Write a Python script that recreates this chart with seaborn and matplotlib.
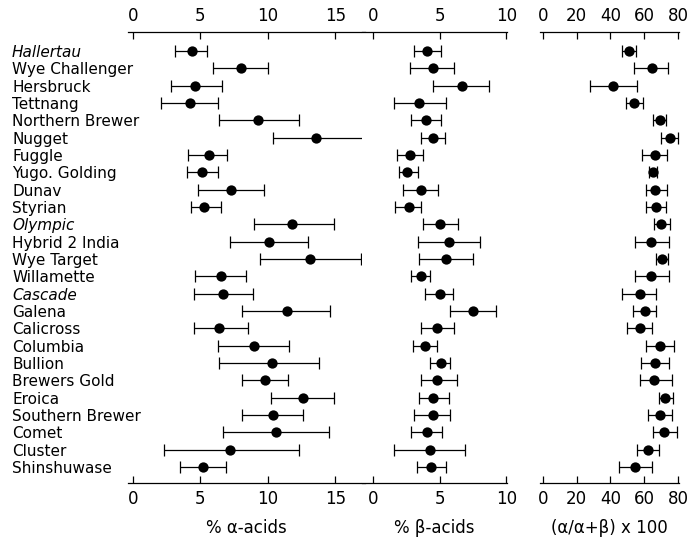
import numpy as np
import pandas as pd
import matplotlib
matplotlib.use("Agg")
import matplotlib.pyplot as plt
import seaborn as sns

varieties = ["Hallertau", "Wye Challenger", "Hersbruck", "Tettnang", "Northern Brewer",
             "Nugget", "Fuggle", "Yugo. Golding", "Dunav", "Styrian", "Olympic",
             "Hybrid 2 India", "Wye Target", "Willamette", "Cascade", "Galena",
             "Calicross", "Columbia", "Bullion", "Brewers Gold", "Eroica",
             "Southern Brewer", "Comet", "Cluster", "Shinshuwase"]
italic_names = ["Hallertau", "Olympic", "Cascade"]

alpha_mean = [4.4, 8.0, 4.6, 4.2, 9.3, 13.6, 5.6, 5.1, 7.3, 5.3, 11.8, 10.1, 13.1,
              6.5, 6.7, 11.4, 6.4, 9.0, 10.3, 9.8, 12.6, 10.4, 10.6, 7.2, 5.2]
alpha_low = [3.1, 5.9, 2.8, 2.1, 6.4, 10.4, 4.1, 4.0, 4.8, 4.3, 9.0, 7.2, 9.4,
             4.6, 4.5, 8.1, 4.5, 6.3, 6.4, 8.1, 10.2, 8.1, 6.7, 2.3, 3.5]
alpha_high = [5.5, 10.0, 6.6, 6.3, 12.3, 17.1, 7.0, 6.3, 9.7, 6.5, 14.9, 13.0, 16.9,
              8.4, 8.9, 14.6, 8.5, 11.6, 13.8, 11.5, 14.9, 12.6, 14.5, 12.3, 6.9]

beta_mean = [4.1, 4.5, 6.7, 3.5, 4.0, 4.5, 2.8, 2.6, 3.6, 2.7, 5.0, 5.7, 5.5,
             3.6, 5.0, 7.5, 4.8, 3.9, 5.1, 4.8, 4.5, 4.5, 4.1, 4.3, 4.4]
beta_low = [3.1, 2.8, 4.5, 1.6, 2.9, 3.6, 1.8, 2.0, 2.3, 1.7, 3.8, 3.4, 3.5,
            2.9, 3.9, 5.8, 3.6, 3.0, 4.3, 3.6, 3.5, 3.1, 2.9, 1.6, 3.3]
beta_high = [5.1, 6.1, 8.7, 5.5, 5.1, 5.4, 3.8, 3.4, 4.9, 3.6, 6.4, 8.0, 7.5,
             4.3, 6.0, 9.2, 6.1, 4.8, 5.8, 6.3, 5.7, 5.8, 5.2, 6.9, 5.5]

ratio_mean = [50.9, 64.6, 41.3, 53.8, 69.2, 75.0, 66.2, 65.2, 66.6, 66.8, 70.1, 64.2, 70.5,
              64.1, 57.2, 60.3, 57.2, 69.4, 66.1, 65.9, 72.3, 69.4, 71.7, 62.0, 54.3]
ratio_low = [46.6, 53.8, 27.9, 49.0, 65.2, 70.0, 58.7, 62.7, 60.9, 60.9, 65.8, 54.4, 66.8,
             54.8, 47.1, 53.5, 50.0, 61.0, 57.8, 57.4, 68.4, 62.2, 65.1, 55.4, 44.8]
ratio_high = [55.0, 74.0, 55.8, 59.3, 73.0, 80.0, 73.7, 67.8, 73.5, 73.0, 75.4, 74.5, 74.0,
              74.6, 67.1, 67.1, 64.5, 77.7, 74.8, 76.2, 77.1, 76.2, 79.5, 68.4, 64.5]

alpha_ticks = [0, 5, 10, 15]
beta_ticks = [0, 5, 10]
ratio_ticks = [0, 20, 40, 60, 80]
xlabels = ["% α-acids", "% β-acids", "(α/α+β) x 100"]

sns.set_style("white")
plt.rcParams["font.family"] = ["DejaVu Sans"]
plt.rcParams["text.color"] = "black"
plt.rcParams["axes.labelcolor"] = "black"
plt.rcParams["xtick.color"] = "black"
plt.rcParams["ytick.color"] = "black"

W, H = 690, 538
fig = plt.figure(figsize=(W / 100, H / 100), dpi=100)

bottom = 1 - 483 / H
height = (483 - 32) / H
ax1 = fig.add_axes([128 / W, bottom, (365 - 128) / W, height])
ax2 = fig.add_axes([362 / W, bottom, (507 - 362) / W, height], sharey=ax1)
ax3 = fig.add_axes([540 / W, bottom, (679 - 540) / W, height], sharey=ax1)

rows = np.arange(len(varieties))
panels = [
    (ax1, alpha_mean, alpha_low, alpha_high, alpha_ticks, (-0.37, 17.2)),
    (ax2, beta_mean, beta_low, beta_high, beta_ticks, (-0.8, 10.05)),
    (ax3, ratio_mean, ratio_low, ratio_high, ratio_ticks, (-1.6, 80.5)),
]

for (ax, m, lo, hi, ticks, xl), lab in zip(panels, xlabels):
    df = pd.DataFrame({"variety": varieties, "row": rows, "mean": m, "low": lo, "high": hi})
    err = np.vstack([df["mean"] - df["low"], df["high"] - df["mean"]])
    ax.errorbar(df["mean"], df["row"], xerr=err, fmt="none", ecolor="black",
                elinewidth=0.9, capsize=4, capthick=0.9, zorder=2)
    sns.scatterplot(data=df, x="mean", y="row", ax=ax, color="black", s=55,
                    edgecolor="black", linewidth=0, zorder=3, legend=False)
    ax.set_xlim(*xl)
    ax.set_xticks(ticks)
    ax.set_xticklabels([str(t) for t in ticks], fontsize=12, color="black")
    ax.tick_params(axis="x", which="both", direction="in", top=True, bottom=True,
                   labeltop=True, labelbottom=True, length=5, width=0.9, pad=5,
                   colors="black")
    for s in ["left", "right"]:
        ax.spines[s].set_visible(False)
    for s in ["top", "bottom"]:
        ax.spines[s].set_visible(True)
        ax.spines[s].set_linewidth(0.9)
        ax.spines[s].set_color("black")
    ax.set_xlabel(lab, fontsize=12, labelpad=8, color="black")
    ax.set_ylabel("")

ax1.set_ylim(len(varieties) - 1 + 0.93, -1.1)
ax1.set_yticks(rows)
ax1.set_yticklabels(varieties, fontsize=11, ha="left", color="black")
ax1.tick_params(axis="y", length=0, pad=(128 - 12) * 72 / 100)
for t in ax1.get_yticklabels():
    if t.get_text() in italic_names:
        t.set_fontstyle("italic")
for ax in (ax2, ax3):
    ax.tick_params(axis="y", left=False, labelleft=False)

fig.savefig("out.png", dpi=100)
